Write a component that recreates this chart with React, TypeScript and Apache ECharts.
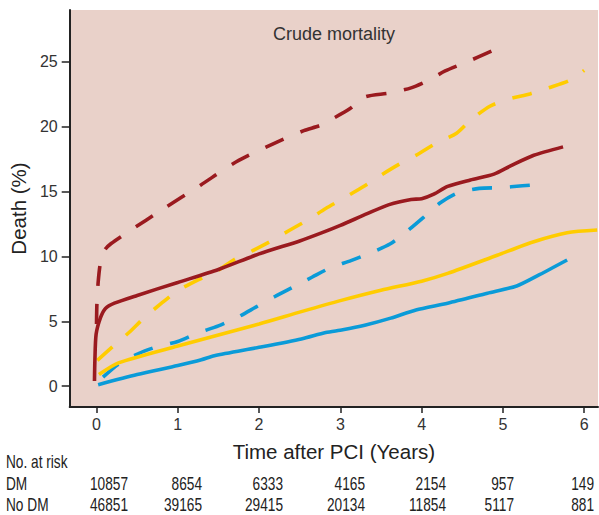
import React, { useEffect, useRef } from "react";
import * as echarts from "echarts";

const title = "Crude mortality";
const xName = "Time after PCI (Years)";
const yName = "Death (%)";
const xTicks = [0, 1, 2, 3, 4, 5, 6];
const yTicks = [0, 5, 10, 15, 20, 25];

const riskHeader = "No. at risk";
const riskGroups = ["DM", "No DM"];
const riskDM = [10857, 8654, 6333, 4165, 2154, 957, 149];
const riskNoDM = [46851, 39165, 29415, 20134, 11854, 5117, 881];

// DM, dashed (dark red)
const redDashed: number[][] = [
  [0, 4.8], [0.005, 6.4], [0.02, 8.0], [0.05, 9.6], [0.1, 10.5], [0.18, 11.0],
  [0.39, 11.9], [0.83, 13.7], [1.28, 15.5], [1.72, 17.3], [2.18, 18.7], [2.55, 19.7],
  [2.75, 20.1], [2.9, 20.6], [3.12, 21.4], [3.3, 22.3], [3.6, 22.6], [3.87, 23.0],
  [4.09, 23.6], [4.29, 24.3], [4.56, 25.0], [4.81, 25.7], [5.06, 26.4],
];
// DM, solid (dark red)
const redSolid: number[][] = [
  [-0.025, 0.4], [-0.02, 2.0], [-0.005, 4.0], [0.05, 5.3], [0.11, 6.0], [0.22, 6.4],
  [0.5, 7.0], [1.0, 8.0], [1.5, 9.0], [2.0, 10.2], [2.5, 11.2], [2.76, 11.8],
  [3.0, 12.4], [3.33, 13.3], [3.6, 14.0], [3.87, 14.4], [4.0, 14.45], [4.15, 14.8],
  [4.32, 15.4], [4.6, 15.9], [4.89, 16.35], [5.1, 17.0], [5.38, 17.8], [5.74, 18.45],
];
// dashed (yellow)
const yellowDashed: number[][] = [
  [0.01, 2.0], [0.2, 3.06], [0.41, 4.2], [0.59, 5.3], [0.8, 6.4], [1.0, 7.37],
  [1.25, 8.2], [1.47, 8.83], [1.7, 9.78], [1.92, 10.45], [2.17, 11.27], [2.37, 12.0],
  [2.62, 12.9], [2.82, 13.7], [3.07, 14.6], [3.28, 15.37], [3.5, 16.27], [3.72, 17.1],
  [3.97, 17.94], [4.17, 18.7], [4.43, 19.5], [4.61, 20.55], [4.84, 21.58], [5.05, 22.1],
  [5.34, 22.55], [5.56, 23.0], [5.83, 23.6], [6.0, 24.35],
];
const yellowSolid: number[][] = [
  [0.03, 0.9], [0.27, 1.8], [1.0, 3.1], [2.0, 4.8], [2.52, 5.75], [3.0, 6.6],
  [3.5, 7.4], [4.0, 8.1], [4.32, 8.7], [4.93, 10.1], [5.38, 11.14], [5.79, 11.83],
  [6.16, 12.04],
];
const blueDashed: number[][] = [
  [0.08, 0.7], [0.27, 1.7], [0.51, 2.5], [0.75, 3.06], [1.0, 3.45], [1.24, 4.1],
  [1.5, 4.65], [1.73, 5.3], [1.96, 6.1], [2.19, 6.9], [2.43, 7.68], [2.65, 8.4],
  [2.89, 9.17], [3.13, 9.68], [3.38, 10.3], [3.61, 10.96], [3.83, 12.0], [4.02, 13.0],
  [4.23, 14.14], [4.44, 14.9], [4.71, 15.25], [4.96, 15.3], [5.24, 15.45], [5.49, 15.58],
];
const blueSolid: number[][] = [
  [0.02, 0.12], [0.5, 0.9], [1.0, 1.6], [1.29, 2.04], [1.45, 2.35], [2.0, 3.0],
  [2.52, 3.65], [2.82, 4.14], [3.03, 4.35], [3.3, 4.7], [3.62, 5.25], [3.93, 5.88],
  [4.32, 6.4], [4.81, 7.17], [5.17, 7.73], [5.45, 8.6], [5.79, 9.73],
];

const RED = "#9A1A1F";
const YELLOW = "#FFCC00";
const BLUE = "#0A9BD8";
const SANS = "'Liberation Sans', Arial, sans-serif";

export default function App() {
  const ref = useRef<HTMLDivElement>(null);
  useEffect(() => {
    if (!ref.current) return;
    const chart = echarts.init(ref.current, undefined, { renderer: "svg" });
    const mk = (data: number[][], color: string, dashed: boolean) => ({
      type: "line",
      data,
      showSymbol: false,
      smooth: 0.25,
      lineStyle: { color, width: 3.6, type: dashed ? [20, 18] : "solid", cap: "butt" },
      z: 3,
    });
    const colRight = [128, 202, 283, 365, 446, 514, 594];
    const SX = 0.76;
    const txt = (text: string, x: number, y: number, align: string) => ({
      type: "text",
      x,
      y,
      scaleX: SX,
      style: {
        text,
        font: `18px ${SANS}`,
        fill: "#222",
        align,
        verticalAlign: "middle",
      },
    });
    const graphics: any[] = [
      txt(riskHeader, 6, 462, "left"),
      txt(riskGroups[0], 6, 484, "left"),
      txt(riskGroups[1], 6, 505, "left"),
    ];
    riskDM.forEach((v, i) => graphics.push(txt(String(v), colRight[i], 484, "right")));
    riskNoDM.forEach((v, i) => graphics.push(txt(String(v), colRight[i], 505, "right")));
    chart.setOption({
      animation: false,
      backgroundColor: "#fff",
      title: {
        text: title,
        left: 329,
        top: 20,
        textAlign: "center",
        textStyle: { fontFamily: SANS, fontSize: 18, fontWeight: "normal", color: "#333" },
      },
      grid: {
        left: 68, top: 10, right: 1, bottom: 108,
        show: true, backgroundColor: "#E9D1C9", borderWidth: 0,
      },
      xAxis: {
        type: "value",
        min: -0.33,
        max: 6.17,
        name: xName,
        nameLocation: "middle",
        nameGap: 34,
        nameTextStyle: { fontFamily: SANS, fontSize: 20.5, color: "#222" },
        axisLine: { show: true, onZero: false, lineStyle: { color: "#222", width: 2 } },
        axisTick: { show: true, length: 6, customValues: xTicks, lineStyle: { color: "#222", width: 1.5 } },
        axisLabel: { customValues: xTicks, fontFamily: SANS, fontSize: 16, color: "#333", margin: 9 },
        splitLine: { show: false },
      },
      yAxis: {
        type: "value",
        min: -1.6,
        max: 29,
        name: yName,
        nameLocation: "middle",
        nameGap: 36,
        nameTextStyle: { fontFamily: SANS, fontSize: 20.5, color: "#222" },
        axisLine: { show: true, onZero: false, lineStyle: { color: "#222", width: 2 } },
        axisTick: { show: true, length: 8, customValues: yTicks, lineStyle: { color: "#222", width: 1.5 } },
        axisLabel: { customValues: yTicks, fontFamily: SANS, fontSize: 16, color: "#333", margin: 12 },
        splitLine: { show: false },
      },
      graphic: graphics,
      series: [
        mk(redDashed, RED, true),
        mk(yellowDashed, YELLOW, true),
        mk(blueDashed, BLUE, true),
        mk(yellowSolid, YELLOW, false),
        mk(blueSolid, BLUE, false),
        mk(redSolid, RED, false),
      ],
    });
    return () => chart.dispose();
  }, []);
  return (
    <div
      ref={ref}
      style={{ position: "fixed", left: 0, top: 0, width: 599, height: 515 }}
    />
  );
}
